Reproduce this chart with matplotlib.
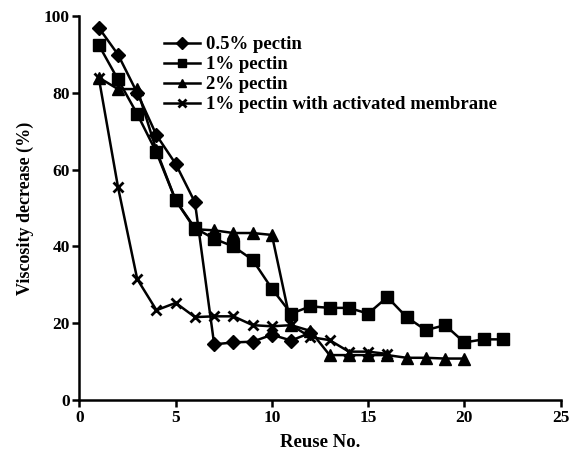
import matplotlib
matplotlib.use("Agg")
import matplotlib.pyplot as plt

# viscosity decrease per reuse cycle
reuse_05 = list(range(1, 13))
pectin_05 = [97, 90, 80, 69, 61.5, 51.5, 14.5, 15, 15.2, 17, 15.5, 17.5]

reuse_1 = list(range(1, 23))
pectin_1 = [92.5, 83.5, 74.5, 64.5, 52, 44.8, 42, 40, 36.5, 29, 22.5,
            24.4, 24, 24, 22.5, 26.8, 21.6, 18.2, 19.5, 15, 15.8, 15.8]

reuse_2 = list(range(1, 21))
pectin_2 = [84, 81, 81, 65, 52, 44.5, 44.2, 43.5, 43.5, 43, 19.5,
            18, 11.7, 11.7, 11.7, 11.7, 11, 11, 10.8, 10.8]

reuse_act = list(range(1, 17))
pectin_act = [84, 55.5, 31.5, 23.4, 25.3, 21.6, 21.8, 21.8, 19.5, 19.2,
              19.5, 16.4, 15.6, 12.6, 12.6, 12]

labels = ["0.5% pectin", "1% pectin", "2% pectin",
          "1% pectin with activated membrane"]

plt.rcParams["font.family"] = ["Liberation Serif", "DejaVu Serif"]

fig = plt.figure(figsize=(5.74, 4.57), dpi=100)
ax = fig.add_axes([0.1385, 0.1247, 0.8380, 0.8400])

lw = 1.8
ax.plot(reuse_05, pectin_05, color="black", lw=lw, marker="D", ms=7.5, label=labels[0])
ax.plot(reuse_1, pectin_1, color="black", lw=lw, marker="s", ms=8, label=labels[1])
ax.plot(reuse_2, pectin_2, color="black", lw=lw, marker="^", ms=8.5, label=labels[2])
ax.plot(reuse_act, pectin_act, color="black", lw=lw, marker="x", ms=7.5, mew=2, label=labels[3])

ax.set_xlim(0, 25)
ax.set_ylim(0, 100)
ax.set_xticks([0, 5, 10, 15, 20, 25])
ax.set_yticks([0, 20, 40, 60, 80, 100])
for s in ["top", "right"]:
    ax.spines[s].set_visible(False)
for s in ["left", "bottom"]:
    ax.spines[s].set_linewidth(1.8)
ax.tick_params(direction="out", length=5, width=1.8, labelsize=12.5, pad=2)
for t in ax.get_xticklabels() + ax.get_yticklabels():
    t.set_fontweight("bold")

ax.set_xlabel("Reuse No.", fontsize=13.5, fontweight="bold", labelpad=6)
ax.set_ylabel("Viscosity decrease (%)", fontsize=13, fontweight="bold", labelpad=7)

leg = ax.legend(loc="upper left", bbox_to_anchor=(0.272, 0.937), bbox_transform=fig.transFigure,
                frameon=False, handlelength=1.95, handletextpad=0.3, labelspacing=0.15,
                borderaxespad=0, prop={"size": 13.5, "weight": "bold"}, markerscale=0.75)

fig.savefig("out.png", dpi=100)
